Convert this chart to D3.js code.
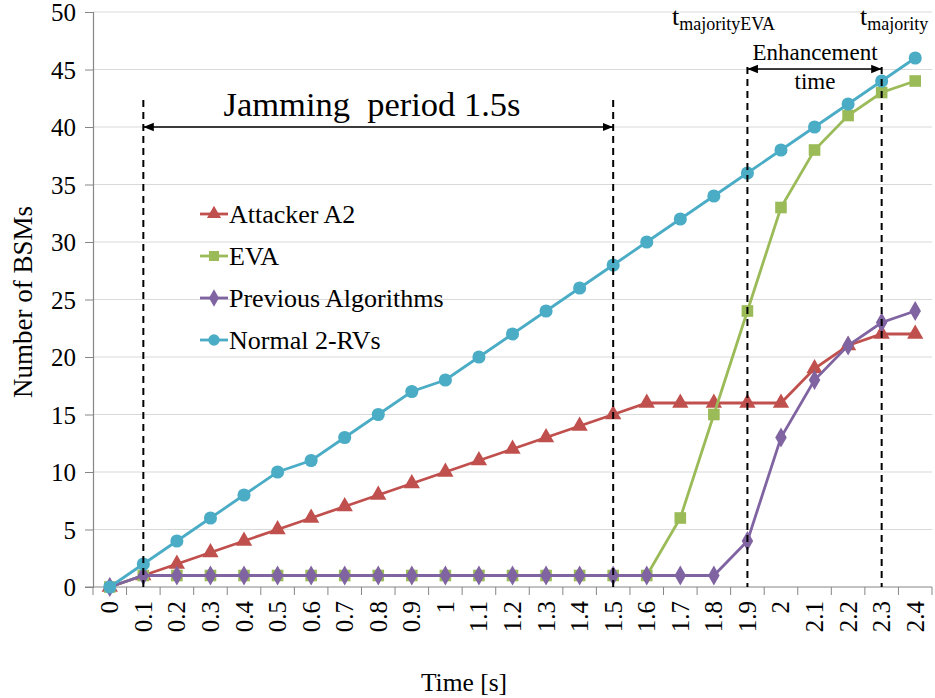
<!DOCTYPE html>
<html>
<head>
<meta charset="utf-8">
<script src="https://cdn.jsdelivr.net/npm/d3@7/dist/d3.min.js"></script>
<style>
  body { margin: 0; background: #fff; }
</style>
</head>
<body>
<div id="chart"></div>
<script>
// Data
var times = ["0","0.1","0.2","0.3","0.4","0.5","0.6","0.7","0.8","0.9","1","1.1","1.2",
             "1.3","1.4","1.5","1.6","1.7","1.8","1.9","2","2.1","2.2","2.3","2.4"];
var attackerA2 = [0,1,2,3,4,5,6,7,8,9,10,11,12,13,14,15,16,16,16,16,16,19,21,22,22];
var eva = [0,1,1,1,1,1,1,1,1,1,1,1,1,1,1,1,1,6,15,24,33,38,41,43,44];
var previousAlg = [0,1,1,1,1,1,1,1,1,1,1,1,1,1,1,1,1,1,1,4,13,18,21,23,24];
var normal2RV = [0,2,4,6,8,10,11,13,15,17,18,20,22,24,26,28,30,32,34,36,38,40,42,44,46];
var yTicks = [0,5,10,15,20,25,30,35,40,45,50];

var series = [
  { name: "Attacker A2", values: attackerA2, color: "#C0504D", symbol: d3.symbolTriangle, size: 115 },
  { name: "EVA", values: eva, color: "#9BBB59", symbol: d3.symbolSquare, size: 135 },
  { name: "Previous Algorithms", values: previousAlg, color: "#8064A2", symbol: d3.symbolDiamond, size: 115 },
  { name: "Normal 2-RVs", values: normal2RV, color: "#4BACC6", symbol: d3.symbolCircle, size: 135 }
];

var FONT = "Liberation Serif";
var W = 935, H = 698;
var plot = { left: 93, right: 932, top: 12, bottom: 587 };

var svg = d3.select("#chart").append("svg")
  .attr("width", W).attr("height", H)
  .attr("font-family", FONT);

function label(sel, size) {
  return sel.attr("font-family", FONT).attr("font-size", size).attr("fill", "#000");
}

var x = d3.scaleBand().domain(times).range([plot.left, plot.right]).padding(0);
var cx = function (t) { return x(t) + x.bandwidth() / 2; };
var y = d3.scaleLinear().domain([0, 50]).range([plot.bottom, plot.top]);

// Gridlines
svg.append("g").selectAll("line")
  .data(yTicks.filter(function (d) { return d > 0; }))
  .enter().append("line")
  .attr("x1", plot.left).attr("x2", plot.right)
  .attr("y1", function (d) { return y(d); }).attr("y2", function (d) { return y(d); })
  .attr("stroke", "#d9d9d9").attr("stroke-width", 1);

// Y axis
var yAxis = svg.append("g")
  .attr("transform", "translate(" + plot.left + ",0)")
  .call(d3.axisLeft(y).tickValues(yTicks).tickSize(8).tickPadding(9));
yAxis.attr("font-family", FONT).attr("font-size", 25);
yAxis.select(".domain").attr("stroke", "#868686").attr("stroke-width", 1.2);
yAxis.selectAll(".tick line").attr("stroke", "#868686");
label(yAxis.selectAll("text"), 25).attr("dy", "0.34em");

// X axis: ticks at category boundaries, labels rotated
var xg = svg.append("g");
xg.append("line")
  .attr("x1", plot.left - 8).attr("x2", plot.right)
  .attr("y1", plot.bottom).attr("y2", plot.bottom)
  .attr("stroke", "#868686").attr("stroke-width", 1.2);
xg.selectAll(".xtick")
  .data(times.map(function (t) { return x(t); }).concat([plot.right]))
  .enter().append("line")
  .attr("x1", function (d) { return d; }).attr("x2", function (d) { return d; })
  .attr("y1", plot.bottom).attr("y2", plot.bottom + 8)
  .attr("stroke", "#868686");
label(xg.selectAll(".xlab")
  .data(times)
  .enter().append("text")
  .attr("transform", function (d) { return "translate(" + cx(d) + "," + (plot.bottom + 14) + ") rotate(-90)"; })
  .attr("text-anchor", "end")
  .attr("dy", "0.34em"), 25)
  .text(function (d) { return d; });

// Axis titles
label(svg.append("text")
  .attr("transform", "translate(23," + 302 + ") rotate(-90)")
  .attr("text-anchor", "middle")
  .attr("dy", "0.34em"), 27)
  .text("Number of BSMs");
label(svg.append("text")
  .attr("x", 464).attr("y", 691)
  .attr("text-anchor", "middle"), 25.5)
  .text("Time [s]");

// Lines and markers
var line = d3.line()
  .x(function (d, i) { return cx(times[i]); })
  .y(function (d) { return y(d); });

series.forEach(function (s) {
  var g = svg.append("g");
  g.append("path")
    .datum(s.values)
    .attr("d", line)
    .attr("fill", "none")
    .attr("stroke", s.color)
    .attr("stroke-width", 2.8);
  g.selectAll("path.m")
    .data(s.values)
    .enter().append("path")
    .attr("class", "m")
    .attr("d", d3.symbol().type(s.symbol).size(s.size))
    .attr("transform", function (d, i) { return "translate(" + cx(times[i]) + "," + y(d) + ")"; })
    .attr("fill", s.color);
});

// Annotations: dashed markers and arrows
svg.append("defs").append("marker")
  .attr("id", "arr").attr("viewBox", "0 0 10 10")
  .attr("refX", 10).attr("refY", 5)
  .attr("markerWidth", 7).attr("markerHeight", 7)
  .attr("orient", "auto-start-reverse")
  .append("path").attr("d", "M0,1 L10,5 L0,9 Z").attr("fill", "#000");

var dashed = [
  { t: "0.1", top: 100 }, { t: "1.5", top: 100 },
  { t: "1.9", top: 67 }, { t: "2.3", top: 67 }
];
svg.append("g").selectAll("line")
  .data(dashed)
  .enter().append("line")
  .attr("x1", function (d) { return cx(d.t); }).attr("x2", function (d) { return cx(d.t); })
  .attr("y1", function (d) { return d.top; }).attr("y2", plot.bottom)
  .attr("stroke", "#000").attr("stroke-width", 2)
  .attr("stroke-dasharray", "7,5");

svg.append("line")
  .attr("x1", cx("0.1")).attr("x2", cx("1.5"))
  .attr("y1", y(40)).attr("y2", y(40))
  .attr("stroke", "#000").attr("stroke-width", 1.5)
  .attr("marker-start", "url(#arr)").attr("marker-end", "url(#arr)");
svg.append("line")
  .attr("x1", cx("1.9")).attr("x2", cx("2.3"))
  .attr("y1", 69).attr("y2", 69)
  .attr("stroke", "#000").attr("stroke-width", 1.5)
  .attr("marker-start", "url(#arr)").attr("marker-end", "url(#arr)");

label(svg.append("text")
  .attr("x", 372).attr("y", 116)
  .attr("text-anchor", "middle")
  .attr("xml:space", "preserve"), 34.5)
  .text("Jamming  period 1.5s");

label(svg.append("text")
  .attr("x", 815).attr("y", 60)
  .attr("text-anchor", "middle"), 23)
  .text("Enhancement");
label(svg.append("text")
  .attr("x", 815).attr("y", 89)
  .attr("text-anchor", "middle"), 23)
  .text("time");

var t1 = label(svg.append("text").attr("x", 672).attr("y", 25), 26);
t1.append("tspan").text("t");
t1.append("tspan").attr("dy", 5).attr("font-size", 18).text("majorityEVA");
var t2 = label(svg.append("text").attr("x", 860).attr("y", 25), 26);
t2.append("tspan").text("t");
t2.append("tspan").attr("dy", 5).attr("font-size", 18).text("majority");

// Legend
var legend = svg.append("g").attr("transform", "translate(200,214)");
var items = legend.selectAll("g")
  .data(series)
  .enter().append("g")
  .attr("transform", function (d, i) { return "translate(0," + (i * 42) + ")"; });
items.append("line")
  .attr("x1", 0).attr("x2", 28)
  .attr("stroke", function (d) { return d.color; })
  .attr("stroke-width", 2.8);
items.append("path")
  .attr("d", function (d) { return d3.symbol().type(d.symbol).size(d.size * 0.75)(); })
  .attr("transform", "translate(14,0)")
  .attr("fill", function (d) { return d.color; });
label(items.append("text")
  .attr("x", 29).attr("dy", "0.33em"), 26)
  .text(function (d) { return d.name; });
</script>
</body>
</html>
